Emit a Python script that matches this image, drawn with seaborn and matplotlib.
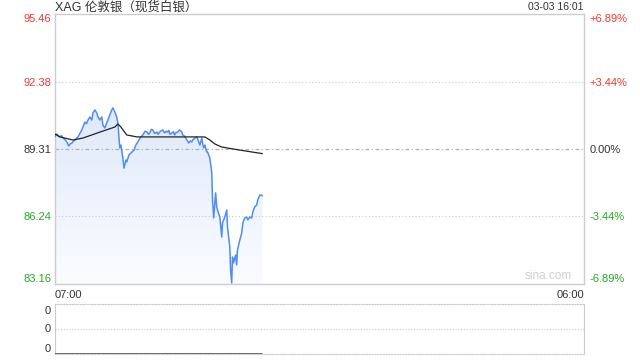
import numpy as np
import pandas as pd
import matplotlib
matplotlib.use("Agg")
import matplotlib.pyplot as plt
import seaborn as sns
from matplotlib.colors import LinearSegmentedColormap

# ---------------- data ----------------
price_minutes = [0, 3, 5, 9, 13, 17, 21, 26, 31, 36, 40, 44, 48, 52, 56, 60, 65, 70, 73, 78,
                 82, 86, 91, 96, 99, 104, 109, 112, 117, 122, 125, 130, 135, 138, 143, 148,
                 151, 156, 161, 164, 167, 169, 172, 177, 180, 185, 187, 193, 198, 206, 211,
                 216, 224, 229, 235, 240, 244, 247, 251, 255, 260, 266, 269, 273, 277, 281,
                 286, 290, 294, 297, 300, 305, 309, 312, 316, 320, 325, 331, 333, 338, 344,
                 349, 353, 357, 359, 365, 370, 375, 378, 383, 385, 388, 391, 396, 398, 401,
                 404, 409, 411, 414, 419, 422, 424, 430, 435, 437, 443, 448, 450, 456, 458,
                 461, 463, 466, 471, 474, 476, 482, 487, 490, 495, 500, 503, 508, 513, 516,
                 521, 526, 529, 534, 539, 541]
price_values = [89.88, 89.95, 89.99, 89.90, 89.86, 89.92, 89.81, 89.74, 89.63, 89.45, 89.55,
                89.58, 89.66, 89.72, 89.80, 89.86, 90.02, 90.18, 90.31, 90.54, 90.46, 90.63,
                90.77, 90.63, 90.95, 91.09, 90.95, 90.77, 90.63, 90.77, 90.40, 90.27, 90.49,
                90.63, 90.86, 91.09, 91.18, 91.00, 90.77, 90.49, 89.81, 89.36, 89.49, 88.90,
                88.44, 88.81, 88.72, 89.04, 89.13, 89.26, 89.49, 89.63, 89.86, 89.95, 90.12,
                90.08, 89.98, 90.04, 90.20, 90.18, 90.02, 90.08, 89.98, 90.08, 90.14, 90.18,
                90.04, 90.12, 90.08, 90.16, 89.98, 90.04, 90.10, 89.95, 90.06, 90.08, 90.18,
                90.08, 89.95, 89.90, 89.72, 89.58, 89.68, 89.63, 89.72, 89.81, 89.86, 89.63,
                89.49, 89.81, 89.58, 89.36, 89.49, 89.17, 89.17, 89.04, 88.90, 88.22, 86.99,
                86.17, 87.31, 86.67, 86.53, 86.21, 85.30, 85.94, 86.21, 86.53, 85.76, 84.85,
                83.80, 83.21, 84.39, 84.12, 84.48, 84.03, 84.71, 85.16, 85.48, 85.94, 86.17,
                86.21, 86.08, 86.21, 86.17, 86.44, 86.67, 86.76, 86.99, 87.21, 87.21, 87.17]

avg_minutes = [0, 13, 47, 73, 117, 156, 164, 172, 187, 214, 247, 391, 404, 417, 435, 482, 541]
avg_values = [89.99, 89.86, 89.72, 89.81, 90.08, 90.31, 90.45, 90.31, 89.95, 89.86, 89.86,
              89.86, 89.72, 89.54, 89.40, 89.26, 89.10]

volume_minutes = [0, 541]
volume_values = [0, 0]

price_ticks = [83.16, 86.24, 89.31, 92.38, 95.46]
price_tick_labels = ["83.16", "86.24", "89.31", "92.38", "95.46"]
pct_tick_labels = ["-6.89%", "-3.44%", "0.00%", "+3.44%", "+6.89%"]
time_ticks = [0, 1380]
time_tick_labels = ["07:00", "06:00"]
prev_close = 89.31
title_text = "XAG 伦敦银（现货白银）"
stamp_text = "03-03 16:01"

# ---------------- style ----------------
sns.set_style("white")
plt.rcParams["font.family"] = ["Liberation Sans", "Noto Sans CJK SC", "DejaVu Sans"]

RED = "#f2382f"
GREEN = "#22a922"
DARK = "#333333"
BLUE = "#4f8ef0"
BORDER = "#cccccc"

fig = plt.figure(figsize=(6.4, 3.6), dpi=100)
W, H = 640, 360
ax = fig.add_axes([55 / W, 1 - 284 / H, (584 - 55) / W, (284 - 14) / H])
axv = fig.add_axes([55 / W, 1 - 354 / H, (584 - 55) / W, (354 - 304) / H])

df_price = pd.DataFrame({"minute": price_minutes, "price": price_values})
df_avg = pd.DataFrame({"minute": avg_minutes, "price": avg_values})
df_vol = pd.DataFrame({"minute": volume_minutes, "vol": volume_values})

ymin, ymax = price_ticks[0], price_ticks[-1]

# gradient fill beneath the price line
poly = ax.fill_between(df_price["minute"], df_price["price"], ymin, color="none", lw=0)
grad = np.linspace(0, 1, 256).reshape(-1, 1)
cmap = LinearSegmentedColormap.from_list("g", ["#fbfcff", "#dfe9fa"])
top = max(price_values)
im = ax.imshow(grad, extent=[0, max(price_minutes), ymin, top], origin="lower",
               aspect="auto", cmap=cmap, zorder=1)
im.set_clip_path(poly.get_paths()[0], transform=ax.transData)
ax.set_xlim(time_ticks[0], time_ticks[-1])
ax.set_ylim(ymin, ymax)

# reference lines
for v in (price_ticks[1], price_ticks[3]):
    ax.axhline(v, color="#c8c8c8", lw=0.8, ls=(0, (1, 2)), zorder=2)
ax.axhline(prev_close, color="#b0b0b0", lw=0.9, ls=(0, (3, 2, 1, 2)), zorder=2)

sns.lineplot(data=df_price, x="minute", y="price", ax=ax, color=BLUE, lw=1.1, zorder=3)
sns.lineplot(data=df_avg, x="minute", y="price", ax=ax, color="#222222", lw=0.9, zorder=4)

for s in ax.spines.values():
    s.set_color(BORDER)
    s.set_linewidth(1)

ax.set_xlabel("")
ax.set_ylabel("")
ax.set_yticks(price_ticks)
ax.set_yticklabels(price_tick_labels)
ax.tick_params(axis="y", length=0, pad=2.5, labelsize=8)
lab_colors = [GREEN, GREEN, DARK, RED, RED]
for lbl, c in zip(ax.get_yticklabels(), lab_colors):
    lbl.set_color(c)
ylabels = ax.get_yticklabels()
ylabels[0].set_va("bottom")
ylabels[-1].set_va("top")

ax.set_xticks(time_ticks)
ax.set_xticklabels(time_tick_labels)
ax.tick_params(axis="x", length=0, pad=4, labelsize=8, labelcolor=DARK)
xl = ax.get_xticklabels()
xl[0].set_ha("left")
xl[-1].set_ha("right")

axr = ax.twinx()
axr.set_ylim(ymin, ymax)
axr.set_yticks(price_ticks)
axr.set_yticklabels(pct_tick_labels)
axr.tick_params(axis="y", length=0, pad=4, labelsize=8)
for lbl, c in zip(axr.get_yticklabels(), lab_colors):
    lbl.set_color(c)
rl = axr.get_yticklabels()
rl[0].set_va("bottom")
rl[-1].set_va("top")
for s in axr.spines.values():
    s.set_visible(False)

ax.text(0.978, 0.006, "sina.com", transform=ax.transAxes, ha="right", va="bottom",
        fontsize=8.5, color="#d0d0d0")

fig.text(55 / W, 1 - 7 / H, title_text, ha="left", va="center", fontsize=9, color=DARK)
fig.text(583 / W, 1 - 7 / H, stamp_text, ha="right", va="center", fontsize=7.5, color=DARK)

# ---------------- volume panel ----------------
axv.set_xlim(time_ticks[0], time_ticks[-1])
axv.set_ylim(0, 1)
axv.axhline(0.5, color="#c8c8c8", lw=0.8, ls=(0, (1, 1.5)))
sns.lineplot(data=df_vol, x="minute", y="vol", ax=axv, color="#555555", lw=1.2, zorder=3)
axv.set_xlabel("")
axv.set_ylabel("")
axv.set_xticks([])
axv.set_yticks([])
axv.spines["top"].set_color("#c8c8c8")
axv.spines["top"].set_linestyle((0, (1, 1.5)))
axv.spines["bottom"].set_color("#c8c8c8")
axv.spines["bottom"].set_linestyle((0, (1, 1.5)))
axv.spines["left"].set_color(BORDER)
axv.spines["right"].set_color(BORDER)
for frac, va, dy in ((1.0, "top", -1.5), (0.5, "center", 0), (0.0, "bottom", 0)):
    axv.annotate("0", xy=(0, frac), xycoords="axes fraction", xytext=(-3, dy),
                 textcoords="offset points", ha="right", va=va, fontsize=8, color=DARK)

fig.savefig("out.png", dpi=100)
